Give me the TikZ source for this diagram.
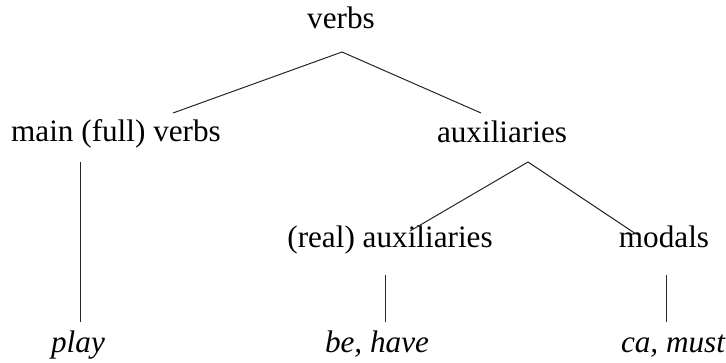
\documentclass[tikz,border=0pt]{standalone}
\usepackage{fontspec}
\setmainfont{Liberation Serif}
\begin{document}
\begin{tikzpicture}[x=0.5pt,y=-0.5pt,
  lbl/.style={anchor=base,inner sep=0pt,font=\fontsize{15.6}{18}\selectfont},
  leaf/.style={anchor=base,inner sep=0pt,font=\fontsize{15.6}{18}\selectfont\itshape},
  edge/.style={line width=0.5pt,black!85}]
\useasboundingbox (0,0) rectangle (726,363);
% nodes
\node[lbl] (verbs) at (341,29) {verbs};
\node[lbl] (main) at (116,141) {main (full) verbs};
\node[lbl] (aux) at (502,142) {auxiliaries};
\node[lbl] (real) at (390,247) {(real) auxiliaries};
\node[lbl] (modals) at (664,247) {modals};
\node[leaf] (play) at (78,352) {play};
\node[leaf] (behave) at (377,352) {be, have};
\node[leaf] (camust) at (673,352) {ca, must};
% connector ends
\coordinate (verbsB) at (342,52);
\coordinate (mainT) at (173,113);
\coordinate (auxT) at (481,113);
\coordinate (auxB) at (528,162);
\coordinate (realT) at (410,231);
\coordinate (modalsT) at (636,234);
\coordinate (mainB) at (80,162);
\coordinate (playT) at (80,322);
\coordinate (realB) at (385,275);
\coordinate (behaveT) at (385,322);
\coordinate (modalsB) at (666,275);
\coordinate (camustT) at (666,322);
% connectors
\draw[edge] (verbsB) -- (mainT);
\draw[edge] (verbsB) -- (auxT);
\draw[edge] (auxB) -- (realT);
\draw[edge] (auxB) -- (modalsT);
\draw[edge] (mainB) -- (playT);
\draw[edge] (realB) -- (behaveT);
\draw[edge] (modalsB) -- (camustT);
\end{tikzpicture}
\end{document}
